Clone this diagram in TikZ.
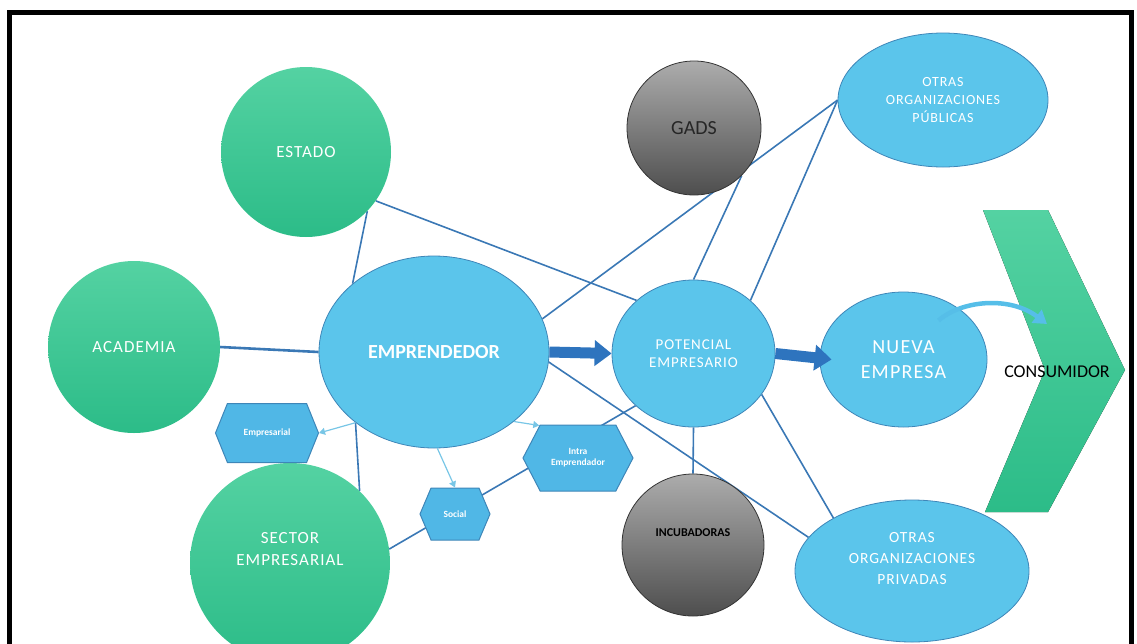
\documentclass[tikz,border=0pt]{standalone}
\usepackage{fontspec}
\setmainfont{Carlito}
\newfontfamily\spaced[LetterSpace=6]{Carlito}
\usetikzlibrary{shapes.geometric,shapes.symbols,arrows.meta}
\pgfdeclarelayer{bg}
\pgfsetlayers{bg,main}

\definecolor{grnT}{RGB}{84,210,162}
\definecolor{grnB}{RGB}{44,188,136}
\definecolor{bluF}{RGB}{91,197,235}
\definecolor{bluD}{RGB}{62,134,184}
\definecolor{hexF}{RGB}{80,183,230}
\definecolor{linkC}{RGB}{58,120,181}
\definecolor{lightA}{RGB}{120,198,230}
\definecolor{grayT}{RGB}{172,172,172}
\definecolor{grayB}{RGB}{78,78,78}
\definecolor{bigA}{RGB}{46,116,190}
\definecolor{curveA}{RGB}{86,190,232}

\tikzset{
  greenball/.style={circle, inner sep=0pt, top color=grnT, bottom color=grnB,
    text=white, align=center},
  blueoval/.style={ellipse, inner sep=0pt, fill=bluF, draw=bluD, line width=0.8pt,
    text=white, align=center},
  grayball/.style={circle, inner sep=0pt, top color=grayT, bottom color=grayB,
    draw=black!80, line width=0.8pt, align=center},
  hexbox/.style={signal, signal to=east and west, fill=hexF, draw=bluD,
    line width=1pt, text=white, inner sep=0pt, align=center,
    font=\bfseries\fontsize{9.5}{11}\selectfont},
  link/.style={draw=linkC, line width=1.6pt},
  subarrow/.style={draw=lightA, line width=1.2pt, -{Triangle[length=6pt,width=7pt]}},
  bigarrow/.style={draw=bigA, line width=11pt, -{Triangle[length=17pt,width=25pt]}},
  curvearrow/.style={draw=curveA, line width=4.5pt, -{Triangle[length=13pt,width=16pt]}},
}

\begin{document}
\begin{tikzpicture}[x=1pt,y=-1pt]
\useasboundingbox (0,0) rectangle (1137,643);

% frame
\draw[line width=5pt] (9.5,650) -- (9.5,12.5) -- (1131,12.5) -- (1131,650);

% consumer chevron
\fill[top color=grnT, bottom color=grnB]
  (983,210) -- (1048,210) -- (1125,370) -- (1048,512) -- (985,512) -- (1045,370) -- cycle;
\node[font=\fontsize{18}{22}\selectfont, text=black] (cons) at (1057,372) {CONSUMIDOR};
\coordinate (chevin) at (1047,324);

% actors
\node[greenball, minimum size=170pt, font=\spaced\fontsize{17}{21}\selectfont] (estado) at (306,152) {ESTADO};
\node[greenball, minimum size=172pt, font=\spaced\fontsize{17}{21}\selectfont] (academia) at (134,347) {ACADEMIA};
\node[greenball, minimum size=200pt, font=\spaced\fontsize{17}{22}\selectfont] (sector) at (290,563) {SECTOR\\EMPRESARIAL\\[6pt]};

\node[blueoval, minimum width=230pt, minimum height=192pt, font=\bfseries\fontsize{20}{24}\selectfont] (empr) at (434,352) {EMPRENDEDOR};
\node[blueoval, minimum width=163pt, minimum height=147pt, font=\spaced\fontsize{15}{18}\selectfont] (pot) at (693.5,353.5) {POTENCIAL\\EMPRESARIO};
\node[blueoval, minimum width=167pt, minimum height=135pt, font=\spaced\fontsize{20}{25}\selectfont] (nueva) at (903.5,359.5) {NUEVA\\EMPRESA};
\node[blueoval, minimum width=210pt, minimum height=134pt, font=\spaced\fontsize{14}{18}\selectfont] (pub) at (943,100) {OTRAS\\ORGANIZACIONES\\PÚBLICAS};
\node[blueoval, minimum width=234pt, minimum height=142pt, font=\spaced\fontsize{15.5}{21}\selectfont] (priv) at (912,571) {OTRAS\\ORGANIZACIONES\\PRIVADAS\\[4pt]};

\node[grayball, minimum size=134pt, text=black!85, font=\fontsize{20}{24}\selectfont] (gads) at (694,128) {GADS};
\node[grayball, minimum size=142pt, text=black, font=\bfseries\fontsize{12}{14}\selectfont] (incub) at (693,545) {INCUBADORAS\\[10pt]};

% entrepreneur types
\node[hexbox, minimum width=103pt, minimum height=59pt, signal pointer angle=136] (hemp) at (267,433) {Empresarial};
\node[hexbox, minimum width=110pt, minimum height=66pt, signal pointer angle=125] (hintra) at (578,458) {Intra\\Emprendador};
\node[hexbox, minimum width=70pt, minimum height=52pt, signal pointer angle=134] (hsoc) at (455,514) {Social};

% relations
\begin{pgfonlayer}{bg}
  \draw[link] (estado.-44) -- (empr.140);
  \draw[link] (estado.-35) -- (pot.137);
  \draw[link, line width=2.6pt] (academia.east) -- (empr.west);
  \draw[link] (empr.17) -- (pub.west);
  \draw[link] (empr.-5) -- (priv.162);
  \draw[link] (empr.222) -- (sector.46);
  \draw[link] (sector.8) -- (pot.222);
  \draw[link] (pot.north) -- (gads.-45);
  \draw[link] (pot.43) -- (pub.west);
  \draw[link] (pot.south) -- (incub.north);
  \draw[link] (pot.-31) -- (priv.146);
\end{pgfonlayer}

% derived types
\draw[subarrow] (empr.222) -- (hemp.east);
\draw[subarrow] (empr.-88) -- (hsoc.north);
\draw[subarrow] (empr.-41) -- (hintra.140);

% main flow
\draw[bigarrow] (empr.east) -- (pot.west);
\draw[bigarrow] (pot.east) -- ([xshift=12pt]nueva.west);
\draw[curvearrow] ([xshift=35pt,yshift=39pt]nueva.center)
  .. controls (962,300) and (1010,296) .. (chevin);
\end{tikzpicture}
\end{document}
